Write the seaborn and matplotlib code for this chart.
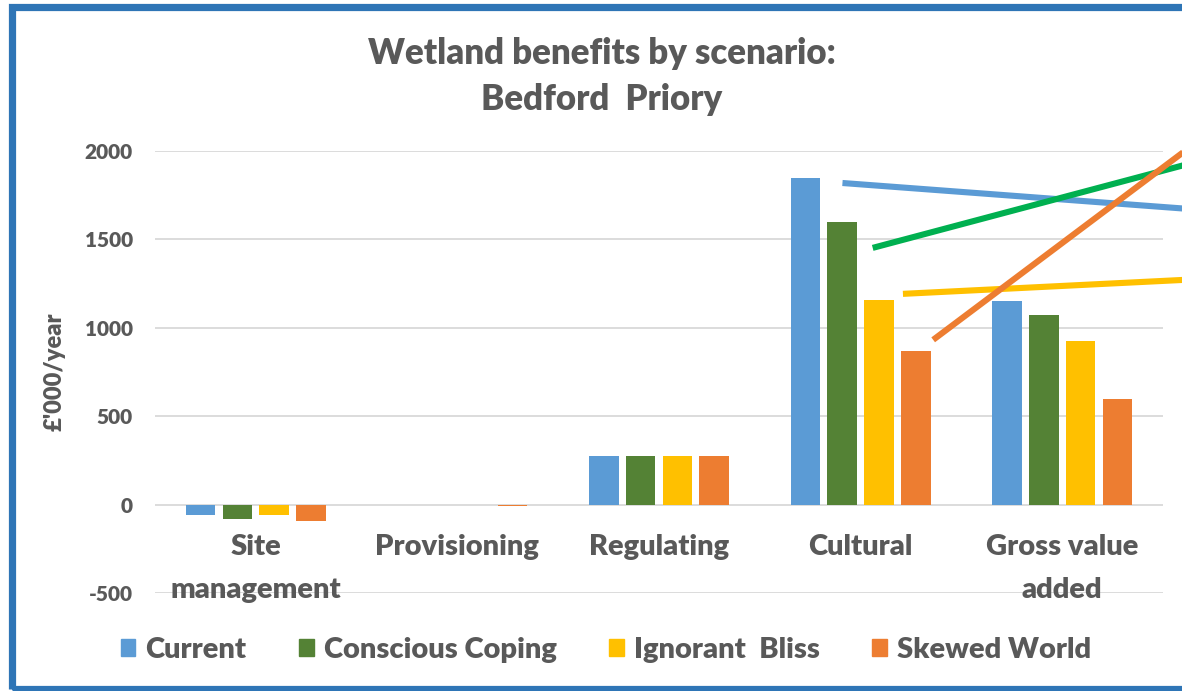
import matplotlib.pyplot as plt
import matplotlib.patches as patches
import pandas as pd
import seaborn as sns

categories = ["Site\nmanagement", "Provisioning", "Regulating", "Cultural", "Gross value\nadded"]
scenarios = ["Current", "Conscious Coping", "Ignorant  Bliss", "Skewed World"]
current = [-60, 0, 275, 1850, 1150]
conscious_coping = [-80, 0, 275, 1600, 1075]
ignorant_bliss = [-60, 0, 275, 1155, 925]
skewed_world = [-90, -10, 275, 870, 600]

# overlay lines (start/end in category units and £'000/year)
line_x = {"Current": [2.91, 4.62], "Conscious Coping": [3.06, 4.62],
          "Ignorant  Bliss": [3.21, 4.62], "Skewed World": [3.36, 4.62]}
line_y = {"Current": [1819, 1673], "Conscious Coping": [1452, 1925],
          "Ignorant  Bliss": [1192, 1272], "Skewed World": [932, 2010]}

bar_colors = ["#5B9BD5", "#548235", "#FFC000", "#ED7D31"]
line_colors = ["#5B9BD5", "#00B050", "#FFC000", "#ED7D31"]
grey = "#595959"

rows = []
for name, vals in zip(scenarios, [current, conscious_coping, ignorant_bliss, skewed_world]):
  for cat, v in zip(categories, vals):
    rows.append({"category": cat, "scenario": name, "value": v})
df = pd.DataFrame(rows)

sns.set_style("white")
plt.rcParams['font.family'] = ['Lato', 'DejaVu Sans']
plt.rcParams['font.weight'] = 'heavy'
plt.rcParams['axes.unicode_minus'] = False

fig = plt.figure(figsize=(11.82, 6.91), dpi=100)
ax = fig.add_axes([155 / 1182, 1 - 593 / 691, 1008 / 1182, 442 / 691])

sns.barplot(data=df, x="category", y="value", hue="scenario", palette=bar_colors,
            saturation=1, width=0.73, gap=0.2, linewidth=0, ax=ax, legend=False)

for name, c in zip(scenarios, line_colors):
  ax.plot(line_x[name], line_y[name], color=c, lw=4.4, clip_on=False, solid_capstyle='butt')

ax.set_xlim(-0.5, 4.5)
ax.set_ylim(-500, 2000)
ax.set_yticks([-500, 0, 500, 1000, 1500, 2000])
ax.yaxis.grid(True, color="#D9D9D9", lw=1.3)
ax.set_axisbelow(True)
ax.xaxis.set_zorder(2.5)  # category labels sit on top of the gridlines
for s in ax.spines.values():
  s.set_visible(False)
ax.spines['bottom'].set_position(('data', 0))
ax.tick_params(axis='x', length=0, pad=21, labelsize=21, labelcolor=grey)
ax.tick_params(axis='y', length=0, pad=16, labelsize=15, labelcolor=grey)
for t in ax.get_xticklabels():
  t.set_linespacing(1.8)
  t.set_fontweight('heavy')
for t in ax.get_yticklabels():
  t.set_fontweight('heavy')
ax.set_xlabel("")
ax.set_ylabel("£'000/year", fontsize=17, color=grey, fontweight='heavy')
ax.yaxis.set_label_coords(-0.089, (593 - 372) / 442)

fig.text(602 / 1182, 1 - 53 / 691, "Wetland benefits by scenario:", ha='center', va='center',
         fontsize=25, color=grey, fontweight='heavy')
fig.text(602 / 1182, 1 - 99 / 691, "Bedford  Priory", ha='center', va='center',
         fontsize=25, color=grey, fontweight='heavy')

handles = [patches.Patch(color=c, label=n) for n, c in zip(scenarios, bar_colors)]
fig.legend(handles=handles, loc='center', bbox_to_anchor=(606 / 1182, 1 - 650 / 691), ncol=4,
           frameon=False, prop={'size': 21, 'weight': 'heavy'}, labelcolor=grey,
           handlelength=0.5, handleheight=0.5, handletextpad=0.35, columnspacing=1.8)

fig.patches.append(patches.Rectangle((11.5 / 1182, 1 - 689 / 691), 1.1, 682 / 691,
                                     transform=fig.transFigure, fill=False,
                                     edgecolor="#2E75B6", lw=5.2))

fig.savefig("out.png", dpi=100)
plt.close()
